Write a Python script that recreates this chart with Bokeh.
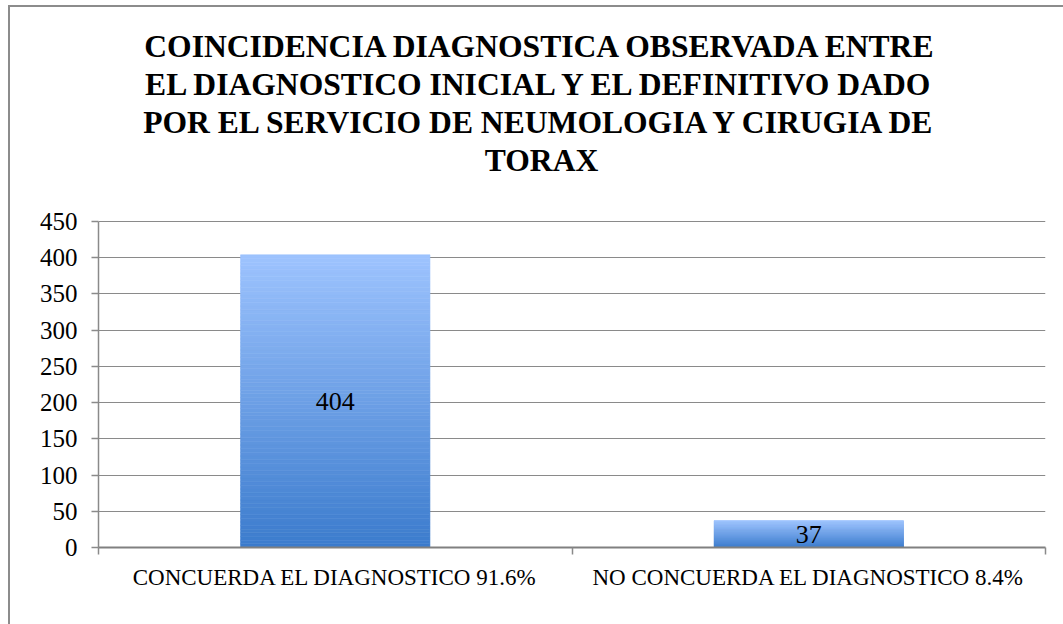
import numpy as np
from bokeh.plotting import figure
from bokeh.models import FixedTicker, Range1d, ColumnDataSource
from bokeh.core.properties import value
from bokeh.embed import file_html
from bokeh.resources import INLINE

title_lines = [
    "COINCIDENCIA DIAGNOSTICA OBSERVADA ENTRE",
    "EL DIAGNOSTICO INICIAL Y EL DEFINITIVO DADO",
    "POR EL SERVICIO DE NEUMOLOGIA Y CIRUGIA DE",
    "TORAX",
]
categories = ["CONCUERDA EL DIAGNOSTICO 91.6%", "NO CONCUERDA EL DIAGNOSTICO 8.4%"]
values = [404, 37]
y_ticks = [0, 50, 100, 150, 200, 250, 300, 350, 400, 450]

SERIF = "Liberation Serif"
W, H = 1063, 624
BL, BR, BT, BB = 98, 18, 12, 77
YMAX = 450
AXIS_TOP_PX = 221           # pixel row where the value 450 sits
FRAME_BOTTOM_PX = H - BB
PPU = (FRAME_BOTTOM_PX - AXIS_TOP_PX) / YMAX   # pixels per value unit
Y_END = (FRAME_BOTTOM_PX - BT) / PPU

fw = W - BL - BR
def dx(px):
    return (px - BL) / fw * len(categories)
def dy(py):
    return (FRAME_BOTTOM_PX - py) / PPU

p = figure(width=W, height=H, output_backend="svg", toolbar_location=None,
           x_range=Range1d(0, len(categories)), y_range=Range1d(0, Y_END),
           min_border_left=BL, min_border_right=BR, min_border_top=BT, min_border_bottom=BB)
p.outline_line_color = None
p.background_fill_color = None
p.border_fill_color = None
# chart border (left and top edges of the chart box)
p.styles = {
    "background": "linear-gradient(#8c8c8c,#8c8c8c) 8px 5px / 2px 100% no-repeat, "
                  "linear-gradient(#8c8c8c,#8c8c8c) 8px 5px / 100% 2px no-repeat, white",
}

# gradient bars built from slices of each value
N = 80
top_rgb = np.array([157, 195, 254])
bot_rgb = np.array([60, 124, 205])
xs, bottoms, tops, colors = [], [], [], []
for i, v in enumerate(values):
    for k in range(N):
        t = k / (N - 1)
        c = bot_rgb + (top_rgb - bot_rgb) * t
        xs.append(i + 0.5)
        bottoms.append(v * k / N)
        tops.append(v * (k + 1) / N)
        colors.append("#%02x%02x%02x" % tuple(int(round(q)) for q in c))
src = ColumnDataSource(dict(x=xs, bottom=bottoms, top=tops, color=colors))
p.vbar(x="x", bottom="bottom", top="top", width=0.4, fill_color="color",
       line_color="color", line_width=0.6, source=src)

# value labels
lsrc = ColumnDataSource(dict(x=[i + 0.5 for i in range(len(values))],
                             y=[v / 2 for v in values],
                             t=[str(v) for v in values]))
p.text(x="x", y="y", text="t", source=lsrc, text_align="center", text_baseline="middle",
       text_font=value(SERIF), text_font_size="26px", text_color="black")

# title (drawn inside the tall frame, above the 450 line)
title_py = [46, 84, 122, 160]
tsrc = ColumnDataSource(dict(x=[dx(541)] * len(title_lines),
                             y=[dy(py) for py in title_py],
                             t=title_lines))
p.text(x="x", y="y", text="t", source=tsrc, text_align="center", text_baseline="middle",
       text_font=value(SERIF), text_font_size="31.6px", text_font_style="bold",
       text_color="black")

# y axis
p.yaxis.ticker = FixedTicker(ticks=y_ticks)
p.yaxis.bounds = (0, YMAX)
p.yaxis.major_tick_out = 7
p.yaxis.major_tick_in = 0
p.yaxis.minor_tick_out = 0
p.yaxis.minor_tick_in = 0
p.yaxis.axis_line_color = "#8a8a8a"
p.yaxis.axis_line_width = 1.5
p.yaxis.major_tick_line_color = "#8a8a8a"
p.yaxis.major_tick_line_width = 1.5
p.yaxis.major_label_text_font = SERIF
p.yaxis.major_label_text_font_size = "25px"
p.yaxis.major_label_text_color = "black"
p.yaxis.major_label_standoff = 14

# x axis: labels at category centres, ticks at category boundaries
p.xaxis.ticker = FixedTicker(ticks=[i + 0.5 for i in range(len(categories))],
                             minor_ticks=list(range(len(categories) + 1)))
p.xaxis.major_label_overrides = {i + 0.5: c for i, c in enumerate(categories)}
p.xaxis.major_tick_out = 0
p.xaxis.major_tick_in = 0
p.xaxis.minor_tick_out = 7
p.xaxis.minor_tick_in = 0
p.xaxis.minor_tick_line_color = "#8a8a8a"
p.xaxis.minor_tick_line_width = 1.5
p.xaxis.axis_line_color = "#808080"
p.xaxis.axis_line_width = 2
p.xaxis.major_label_text_font = SERIF
p.xaxis.major_label_text_font_size = "23px"
p.xaxis.major_label_text_color = "black"
p.xaxis.major_label_standoff = 10

p.xgrid.visible = False
p.ygrid.grid_line_color = "#8a8a8a"
p.ygrid.grid_line_width = 1

open("out.html", "w").write(file_html(p, INLINE))
